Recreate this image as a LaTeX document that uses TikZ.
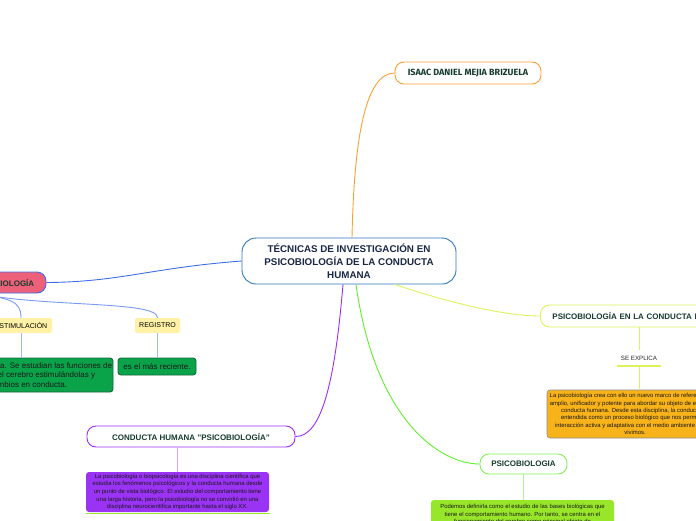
\documentclass[tikz,border=0pt]{standalone}
\usepackage{fontspec}
\setmainfont{Liberation Sans}
\newfontfamily\namefont{Fira Sans}
\usetikzlibrary{positioning}

\definecolor{inkgreen}{HTML}{173C2E}
\definecolor{inknavy}{HTML}{1A2744}
\definecolor{mainblue}{HTML}{2E78C0}
\definecolor{linkblue}{HTML}{3F6FE8}
\definecolor{rosefill}{HTML}{EC6079}
\definecolor{orangeline}{HTML}{F7A135}
\definecolor{violetline}{HTML}{9D2BFF}
\definecolor{violetsoft}{HTML}{D9A5EF}
\definecolor{violetfill}{HTML}{9B33F5}
\definecolor{greenline}{HTML}{62EF2B}
\definecolor{greensoft}{HTML}{B5F095}
\definecolor{greenfill}{HTML}{98E62A}
\definecolor{limeline}{HTML}{DFF25A}
\definecolor{amberfill}{HTML}{F8B21A}
\definecolor{leaffill}{HTML}{0AA34A}
\definecolor{leafedge}{HTML}{16683C}
\definecolor{tagfill}{HTML}{FFF2A6}

\tikzset{
  topic/.style={draw, line width=0.9pt, fill=white, rounded corners=9pt,
    font=\fontsize{8}{9}\selectfont\bfseries, text=inkgreen, inner sep=0pt},
  tag/.style={fill=tagfill, rounded corners=2pt, inner sep=0pt,
    font=\fontsize{7}{8}\selectfont, text=black, minimum height=15pt},
  note/.style={rounded corners=3pt, inner sep=0pt, align=center,
    font=\fontsize{5.9}{7.6}\selectfont, text=black!90},
  link/.style={line width=0.9pt},
  stem/.style={line width=0.9pt}
}

\begin{document}
\begin{tikzpicture}[x=1pt, y=-1pt]

\useasboundingbox (0,0) rectangle (696,520);
\clip (0,0) rectangle (696,520);

% centre
\node[draw=mainblue, line width=0.9pt, fill=white, rounded corners=14pt,
  minimum width=214pt, minimum height=46pt, align=center,
  font=\fontsize{9.8}{12.8}\selectfont\bfseries, text=inknavy]
  (center) at (349,261) {TÉCNICAS DE INVESTIGACIÓN EN\\PSICOBIOLOGÍA DE LA CONDUCTA\\HUMANA};

% author
\node[topic, draw=orangeline, minimum width=146pt, minimum height=22pt,
  font=\namefont\fontsize{9}{10}\selectfont\bfseries]
  (author) at (468,73) {ISAAC DANIEL MEJIA BRIZUELA};

% left branch
\node[topic, draw=linkblue, fill=rosefill, minimum width=88pt, minimum height=21pt]
  (tech) at (2,282.5) {PSICOBIOLOGÍA};
\coordinate (techfoot) at (-30,292);

\node[tag, minimum width=62pt] (stim) at (21,325.5) {ESTIMULACIÓN};
\node[tag, minimum width=45pt] (rec) at (157.5,325.5) {REGISTRO};

\node[note, draw=leafedge, line width=0.9pt, fill=leaffill, minimum width=183pt,
  minimum height=34pt, font=\fontsize{8}{9.5}\selectfont]
  (stimtext) at (21.5,375) {Técnica más antigua. Se estudian las funciones de\\las regiones del cerebro estimulándolas y\\ver cambios en conducta.};
\node[note, draw=leafedge, line width=0.9pt, fill=leaffill, minimum width=78pt,
  minimum height=17pt, font=\fontsize{8}{9.5}\selectfont]
  (rectext) at (157,366.5) {es el más reciente.};

% lower left branch
\node[topic, draw=violetline, minimum width=208pt, minimum height=21pt]
  (human) at (191,436.5) {CONDUCTA HUMANA "PSICOBIOLOGÍA"};
\node[note, fill=violetfill, minimum width=183pt, minimum height=40pt]
  (humantext) at (177.5,492) {La psicobiología o biopsicología es una disciplina científica que\\estudia los fenómenos psicológicos y la conducta humana desde\\un punto de vista biológico. El estudio del comportamiento tiene\\una larga historia, pero la psicobiología no se convirtió en una\\disciplina neurocientífica importante hasta el siglo XX.};
\draw[greenfill, line width=1.5pt] (86,513.5) -- (270,513.5);

% lower right branch
\node[topic, draw=greenline!80!white, minimum width=87pt, minimum height=20pt]
  (psico) at (523.5,464) {PSICOBIOLOGIA};
\node[note, fill=greenfill, minimum width=183pt, minimum height=36pt]
  (psicotext) at (522.5,518)
  {Podemos definirla como el estudio de las bases biológicas que\\tiene el comportamiento humano. Por tanto, se centra en el\\funcionamiento del cerebro como principal objeto de\\estudio.};

% right branch
\node[topic, draw=limeline, minimum width=210pt, minimum height=22pt,
  anchor=west, inner xsep=12pt, text width=186pt]
  (conduct) at (540,316) {PSICOBIOLOGÍA EN LA CONDUCTA HUMANA};
\node[font=\fontsize{6.2}{7}\selectfont, text=black!85, minimum width=44pt,
  minimum height=16pt, inner sep=0pt] (explain) at (639,358) {SE EXPLICA};
\node[note, draw=black!45, line width=0.6pt, fill=amberfill, minimum width=176pt,
  minimum height=48pt, font=\fontsize{5.9}{7.4}\selectfont] (conducttext) at (635,414)
  {La psicobiología crea con ello un nuevo marco de referencia más\\amplio, unificador y potente para abordar su objeto de estudio: la\\conducta humana. Desde esta disciplina, la conducta es\\entendida como un proceso biológico que nos permite la\\interacción activa y adaptativa con el medio ambiente en que\\vivimos.};

% connectors
\draw[link, orangeline] ([xshift=3pt]center.north) .. controls (354,140) and (365,73) .. (author.west);
\draw[link, linkblue] (center.west) .. controls (150,268) and (120,282) .. (tech.east);
\draw[link, violetline] ([xshift=-6pt]center.south) .. controls (335,380) and (322,437) .. (human.east);
\draw[link, greenline] ([xshift=7pt]center.south) .. controls (375,420) and (440,464) .. (psico.west);
\draw[link, limeline] ([xshift=46pt]center.south) .. controls (450,303) and (505,316) .. (conduct.west);

\draw[link, linkblue!70] (techfoot) .. controls (10,299) and (21,300) .. (stim.north);
\draw[link, linkblue!70] (techfoot) .. controls (40,308) and (158,300) .. (rec.north);
\draw[stem, linkblue!50] (stim.south) -- (stim.south |- stimtext.north);
\draw[stem, linkblue!50] (rec.south) -- (rec.south |- rectext.north);
\draw[stem, violetsoft] (human.south -| humantext.north) -- (humantext.north);
\draw[stem, greensoft] (psico.south) -- (psico.south |- psicotext.north);
\draw[stem, limeline] (explain.north |- conduct.south) -- (explain.north);
\draw[stem, limeline] (explain.south) -- (explain.south |- conducttext.north);
\draw[limeline, line width=2pt] (explain.south west) -- (explain.south east);

\end{tikzpicture}
\end{document}
